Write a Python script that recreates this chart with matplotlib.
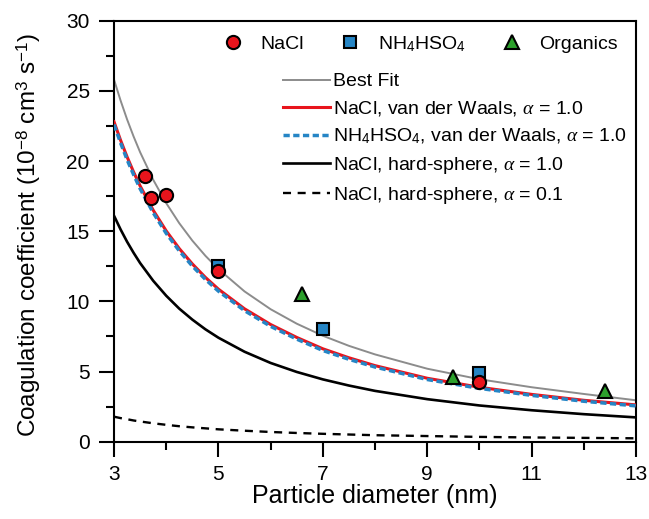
import matplotlib
matplotlib.use("Agg")
import matplotlib.pyplot as plt

plt.rcParams['font.family'] = ['Liberation Sans', 'DejaVu Sans']
plt.rcParams['mathtext.fontset'] = 'custom'
plt.rcParams['mathtext.rm'] = 'Liberation Sans'
plt.rcParams['mathtext.it'] = 'Liberation Serif:italic'
plt.rcParams['mathtext.bf'] = 'Liberation Sans:bold'

# ---- data ----
nacl_d = [3.6, 3.7, 4.0, 5.0, 10.0]
nacl_k = [18.9, 17.4, 17.6, 12.15, 4.25]
nh4_d = [5.0, 7.0, 10.0]
nh4_k = [12.5, 8.05, 4.9]
org_d = [6.6, 9.5, 12.4]
org_k = [10.5, 4.6, 3.6]

curve_d = [3, 3.125, 3.25, 3.375, 3.5, 3.75, 4, 4.25, 4.5, 4.75, 5, 5.5, 6, 6.5, 7, 7.5, 8, 9, 10, 11, 12, 13]
best_fit = [25.8, 24.32, 22.97, 21.75, 20.63, 18.67, 17.0, 15.57, 14.33, 13.25, 12.3, 10.71, 9.44, 8.41,
            7.55, 6.83, 6.22, 5.2, 4.45, 3.88, 3.4, 2.95]
nacl_vdw = [22.8, 21.49, 20.3, 19.22, 18.23, 16.5, 15.02, 13.76, 12.67, 11.71, 10.87, 9.47, 8.35, 7.43,
            6.62, 5.98, 5.42, 4.52, 3.88, 3.37, 2.95, 2.62]
nh4_vdw = [22.6, 21.3, 20.1, 19.03, 18.03, 16.32, 14.85, 13.6, 12.52, 11.57, 10.73, 9.34, 8.22, 7.31,
           6.5, 5.87, 5.32, 4.43, 3.8, 3.3, 2.88, 2.55]
nacl_hs1 = [16.1, 15.13, 14.25, 13.46, 12.73, 11.47, 10.4, 9.48, 8.7, 8.01, 7.41, 6.41, 5.61, 4.97,
            4.44, 4.0, 3.62, 3.03, 2.58, 2.24, 1.96, 1.73]
nacl_hs01 = [1.78, 1.68, 1.6, 1.51, 1.44, 1.31, 1.2, 1.1, 1.02, 0.95, 0.88, 0.78, 0.69, 0.62,
             0.56, 0.51, 0.46, 0.4, 0.34, 0.3, 0.27, 0.24]

x_ticks = [3, 5, 7, 9, 11, 13]
y_ticks = [0, 5, 10, 15, 20, 25, 30]

RED = '#e8141c'
BLUE = '#2585c5'
GREEN = '#2ca02c'

fig = plt.figure(figsize=(6.49, 5.19), dpi=100)
ax = fig.add_axes([0.1757, 0.149, 0.8043, 0.811])

l_best, = ax.plot(curve_d, best_fit, color='#8c8c8c', lw=1.4, zorder=2)
l_red, = ax.plot(curve_d, nacl_vdw, color=RED, lw=2.2, zorder=3)
l_blue, = ax.plot(curve_d, nh4_vdw, color=BLUE, lw=2.5, linestyle=(0, (1.8, 1.0)), zorder=4)
l_hs1, = ax.plot(curve_d, nacl_hs1, color='black', lw=1.9, zorder=3)
l_hs01, = ax.plot(curve_d, nacl_hs01, color='black', lw=1.7, linestyle=(0, (3.4, 2.8)), zorder=3)

ms_kw = dict(linestyle='none', markeredgecolor='black', markeredgewidth=1.5, zorder=6)
h_nh4, = ax.plot(nh4_d, nh4_k, marker='s', markersize=8, markerfacecolor=BLUE, **ms_kw)
h_nacl, = ax.plot(nacl_d, nacl_k, marker='o', markersize=9.5, markerfacecolor=RED, **ms_kw)
h_org, = ax.plot(org_d, org_k, marker='^', markersize=9.5, markerfacecolor=GREEN, **ms_kw)

ax.set_xlim(3, 13)
ax.set_ylim(0, 30)
ax.set_xticks(x_ticks)
ax.set_yticks(y_ticks)
ax.set_xticks([4, 6, 8, 10, 12], minor=True)
ax.set_yticks([2.5, 7.5, 12.5, 17.5, 22.5, 27.5], minor=True)
ax.tick_params(which='major', direction='out', length=10.5, width=1.5, labelsize=15)
ax.tick_params(axis='y', which='major', pad=7)
ax.tick_params(axis='x', which='major', pad=6)
ax.tick_params(which='minor', direction='out', length=6, width=1.5)
for s in ax.spines.values():
    s.set_linewidth(1.5)

ax.set_xlabel('Particle diameter (nm)', fontsize=18, labelpad=0)
ax.set_ylabel('Coagulation coefficient (10$^{-8}$ cm$^3$ s$^{-1}$)', fontsize=17.5)
ax.yaxis.set_label_coords(-0.137, 0.49)

leg1 = ax.legend([h_nacl, h_nh4, h_org], ['NaCl', 'NH$_4$HSO$_4$', 'Organics'],
                 ncol=3, frameon=False, fontsize=14, loc='upper left',
                 bbox_to_anchor=(0.172, 1.01), handletextpad=0.8, columnspacing=1.8,
                 handlelength=1.2)
ax.add_artist(leg1)
ax.legend([l_best, l_red, l_blue, l_hs1, l_hs01],
          ['Best Fit',
           'NaCl, van der Waals, $\\alpha$ = 1.0',
           'NH$_4$HSO$_4$, van der Waals, $\\alpha$ = 1.0',
           'NaCl, hard-sphere, $\\alpha$ = 1.0',
           'NaCl, hard-sphere, $\\alpha$ = 0.1'],
          frameon=False, fontsize=14, loc='upper left', bbox_to_anchor=(0.29, 0.918),
          handlelength=2.4, handletextpad=0.2, labelspacing=0.45)

fig.savefig('out.png', dpi=100, facecolor='white')
